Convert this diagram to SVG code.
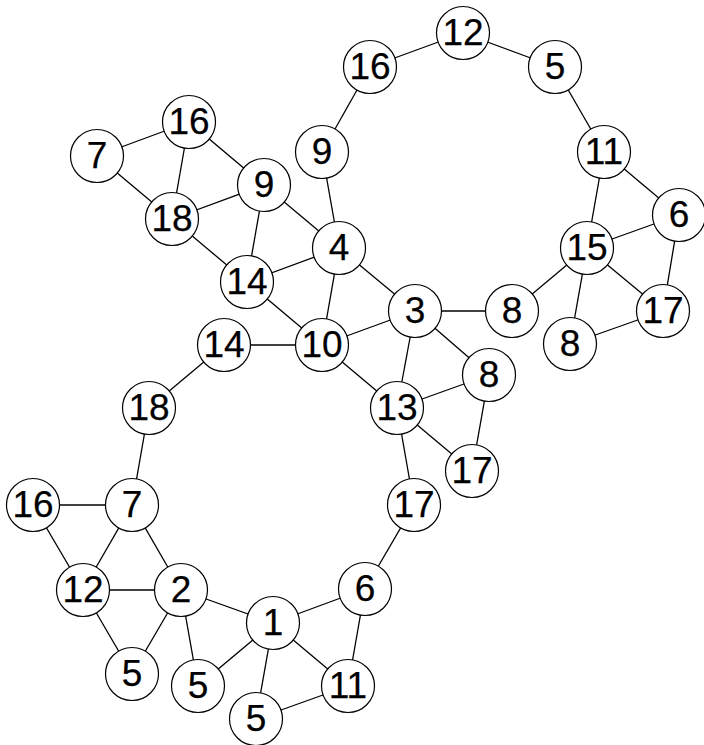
<svg xmlns="http://www.w3.org/2000/svg" width="704" height="745" viewBox="0 0 704 745">
<style>
.n circle{fill:#fff;stroke:#000;stroke-width:1.2}
.n text{font-family:"Liberation Sans",Arial,sans-serif;font-size:37px;text-anchor:middle;fill:#000;stroke:#000;stroke-width:0.25}
#edges line{stroke:#000;stroke-width:1.3}
</style>
<rect width="704" height="745" fill="#fff"/>
<g id="edges">
<line x1="97" y1="156" x2="189" y2="122"/>
<line x1="97" y1="156" x2="172" y2="219"/>
<line x1="189" y1="122" x2="172" y2="219"/>
<line x1="189" y1="122" x2="264" y2="185"/>
<line x1="172" y1="219" x2="264" y2="185"/>
<line x1="264" y1="185" x2="247" y2="282"/>
<line x1="172" y1="219" x2="247" y2="282"/>
<line x1="264" y1="185" x2="339" y2="248"/>
<line x1="247" y1="282" x2="339" y2="248"/>
<line x1="247" y1="282" x2="322" y2="345"/>
<line x1="339" y1="248" x2="322" y2="345"/>
<line x1="322" y1="152" x2="339" y2="248"/>
<line x1="339" y1="248" x2="415" y2="311"/>
<line x1="322" y1="152" x2="370" y2="67"/>
<line x1="370" y1="67" x2="463" y2="33"/>
<line x1="463" y1="33" x2="555" y2="67"/>
<line x1="555" y1="67" x2="604" y2="152"/>
<line x1="604" y1="152" x2="587" y2="248"/>
<line x1="604" y1="152" x2="679" y2="215"/>
<line x1="679" y1="215" x2="587" y2="248"/>
<line x1="679" y1="215" x2="663" y2="311"/>
<line x1="587" y1="248" x2="663" y2="311"/>
<line x1="587" y1="248" x2="570" y2="344"/>
<line x1="570" y1="344" x2="663" y2="311"/>
<line x1="587" y1="248" x2="512" y2="311"/>
<line x1="512" y1="311" x2="415" y2="311"/>
<line x1="415" y1="311" x2="322" y2="345"/>
<line x1="415" y1="311" x2="397" y2="408"/>
<line x1="415" y1="311" x2="489" y2="375"/>
<line x1="322" y1="345" x2="397" y2="408"/>
<line x1="397" y1="408" x2="489" y2="375"/>
<line x1="397" y1="408" x2="472" y2="471"/>
<line x1="489" y1="375" x2="472" y2="471"/>
<line x1="397" y1="408" x2="414" y2="505"/>
<line x1="414" y1="505" x2="365" y2="589"/>
<line x1="365" y1="589" x2="273" y2="623"/>
<line x1="365" y1="589" x2="348" y2="686"/>
<line x1="273" y1="623" x2="348" y2="686"/>
<line x1="273" y1="623" x2="256" y2="719"/>
<line x1="256" y1="719" x2="348" y2="686"/>
<line x1="273" y1="623" x2="198" y2="686"/>
<line x1="273" y1="623" x2="181" y2="590"/>
<line x1="181" y1="590" x2="198" y2="686"/>
<line x1="181" y1="590" x2="132" y2="674"/>
<line x1="83" y1="590" x2="132" y2="674"/>
<line x1="83" y1="590" x2="181" y2="590"/>
<line x1="132" y1="505" x2="181" y2="590"/>
<line x1="132" y1="505" x2="83" y2="590"/>
<line x1="33" y1="505" x2="83" y2="590"/>
<line x1="33" y1="505" x2="132" y2="505"/>
<line x1="132" y1="505" x2="149" y2="408"/>
<line x1="149" y1="408" x2="224" y2="345"/>
<line x1="224" y1="345" x2="322" y2="345"/>
</g>
<g id="n1" class="n"><circle cx="97" cy="156" r="26.5"/><text x="97" y="168">7</text></g>
<g id="n2" class="n"><circle cx="189" cy="122" r="26.5"/><text x="189" y="134">16</text></g>
<g id="n3" class="n"><circle cx="172" cy="219" r="26.5"/><text x="172" y="231">18</text></g>
<g id="n4" class="n"><circle cx="264" cy="185" r="26.5"/><text x="264" y="197">9</text></g>
<g id="n5" class="n"><circle cx="247" cy="282" r="26.5"/><text x="247" y="294">14</text></g>
<g id="n6" class="n"><circle cx="339" cy="248" r="26.5"/><text x="339" y="260">4</text></g>
<g id="n7" class="n"><circle cx="322" cy="345" r="26.5"/><text x="322" y="357">10</text></g>
<g id="n8" class="n"><circle cx="322" cy="152" r="26.5"/><text x="322" y="164">9</text></g>
<g id="n9" class="n"><circle cx="370" cy="67" r="26.5"/><text x="370" y="79">16</text></g>
<g id="n10" class="n"><circle cx="463" cy="33" r="26.5"/><text x="463" y="45">12</text></g>
<g id="n11" class="n"><circle cx="555" cy="67" r="26.5"/><text x="555" y="79">5</text></g>
<g id="n12" class="n"><circle cx="604" cy="152" r="26.5"/><text x="604" y="164">11</text></g>
<g id="n13" class="n"><circle cx="679" cy="215" r="26.5"/><text x="679" y="227">6</text></g>
<g id="n14" class="n"><circle cx="587" cy="248" r="26.5"/><text x="587" y="260">15</text></g>
<g id="n15" class="n"><circle cx="663" cy="311" r="26.5"/><text x="663" y="323">17</text></g>
<g id="n16" class="n"><circle cx="570" cy="344" r="26.5"/><text x="570" y="356">8</text></g>
<g id="n17" class="n"><circle cx="512" cy="311" r="26.5"/><text x="512" y="323">8</text></g>
<g id="n18" class="n"><circle cx="415" cy="311" r="26.5"/><text x="415" y="323">3</text></g>
<g id="n19" class="n"><circle cx="489" cy="375" r="26.5"/><text x="489" y="387">8</text></g>
<g id="n20" class="n"><circle cx="397" cy="408" r="26.5"/><text x="397" y="420">13</text></g>
<g id="n21" class="n"><circle cx="472" cy="471" r="26.5"/><text x="472" y="483">17</text></g>
<g id="n22" class="n"><circle cx="414" cy="505" r="26.5"/><text x="414" y="517">17</text></g>
<g id="n23" class="n"><circle cx="365" cy="589" r="26.5"/><text x="365" y="601">6</text></g>
<g id="n24" class="n"><circle cx="273" cy="623" r="26.5"/><text x="273" y="635">1</text></g>
<g id="n25" class="n"><circle cx="348" cy="686" r="26.5"/><text x="348" y="698">11</text></g>
<g id="n26" class="n"><circle cx="256" cy="719" r="26.5"/><text x="256" y="731">5</text></g>
<g id="n27" class="n"><circle cx="198" cy="686" r="26.5"/><text x="198" y="698">5</text></g>
<g id="n28" class="n"><circle cx="181" cy="590" r="26.5"/><text x="181" y="602">2</text></g>
<g id="n29" class="n"><circle cx="132" cy="674" r="26.5"/><text x="132" y="686">5</text></g>
<g id="n30" class="n"><circle cx="83" cy="590" r="26.5"/><text x="83" y="602">12</text></g>
<g id="n31" class="n"><circle cx="132" cy="505" r="26.5"/><text x="132" y="517">7</text></g>
<g id="n32" class="n"><circle cx="33" cy="505" r="26.5"/><text x="33" y="517">16</text></g>
<g id="n33" class="n"><circle cx="149" cy="408" r="26.5"/><text x="149" y="420">18</text></g>
<g id="n34" class="n"><circle cx="224" cy="345" r="26.5"/><text x="224" y="357">14</text></g>
</svg>
